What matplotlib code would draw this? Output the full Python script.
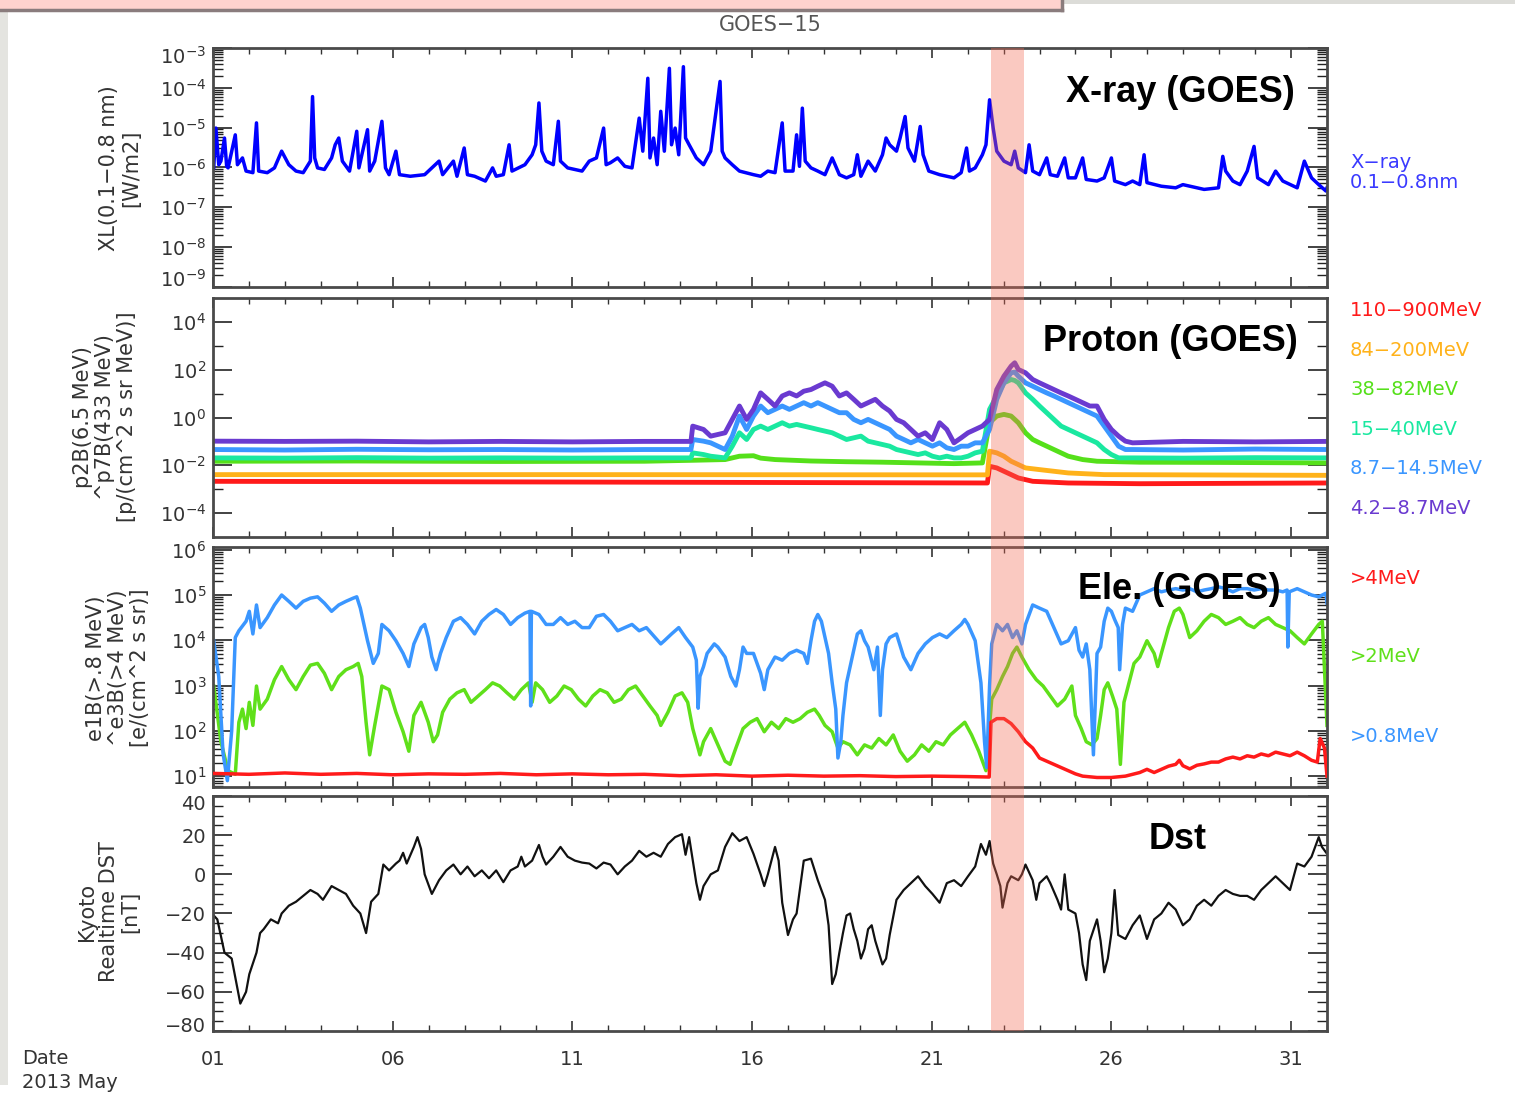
import numpy as np
import matplotlib

matplotlib.use("Agg")
import matplotlib.pyplot as plt
from matplotlib.patches import Rectangle
from matplotlib.lines import Line2D
from matplotlib.ticker import FixedLocator, LogLocator, MultipleLocator, NullFormatter
from matplotlib.transforms import blended_transform_factory, ScaledTranslation

plt.rcParams["font.family"] = ["DejaVu Sans"]

# time axis: days since 2013-05-01 00:00 UT
day_ticks = [0, 5, 10, 15, 20, 25, 30]
day_labels = ["01", "06", "11", "16", "21", "26", "31"]
band_start, band_end = 21.66, 22.56

# GOES-15 X-ray 0.1-0.8 nm, (day, log10 W/m2)
xray = [(0.02,-6.01),(0.08,-5.01),(0.16,-5.93),(0.22,-5.84),(0.32,-5.26),(0.38,-5.97),(0.42,-6.01),(0.62,-5.18),(0.68,-5.93),(0.82,-5.76),(0.92,-6.09),(1.11,-6.13),(1.21,-4.88),(1.27,-6.09),(1.51,-6.13),(1.71,-6.01),(1.91,-5.59),(2.11,-5.93),(2.31,-6.09),(2.51,-6.13),(2.71,-5.84),(2.77,-4.22),(2.83,-5.76),(2.91,-6.01),(3.10,-6.05),(3.30,-5.76),(3.40,-5.43),(3.50,-5.26),(3.60,-5.84),(3.80,-6.09),(4.00,-5.09),(4.06,-6.01),(4.30,-5.05),(4.36,-6.09),(4.50,-5.84),(4.70,-4.84),(4.80,-6.01),(4.90,-6.18),(5.09,-5.59),(5.19,-6.18),(5.49,-6.22),(5.89,-6.18),(6.29,-5.84),(6.39,-6.18),(6.69,-5.84),(6.79,-6.22),(6.99,-5.51),(7.08,-6.18),(7.28,-6.22),(7.58,-6.34),(7.78,-6.01),(7.88,-6.22),(8.08,-6.18),(8.24,-5.43),(8.32,-6.09),(8.68,-5.93),(8.88,-5.68),(8.98,-5.43),(9.07,-4.38),(9.15,-5.59),(9.27,-5.84),(9.47,-5.93),(9.61,-4.84),(9.67,-5.84),(9.87,-6.01),(10.07,-6.05),(10.27,-6.09),(10.47,-5.84),(10.67,-5.76),(10.87,-5.01),(10.94,-5.93),(11.06,-5.88),(11.26,-5.76),(11.46,-5.97),(11.66,-6.01),(11.86,-4.76),(11.96,-5.59),(12.10,-3.76),(12.16,-5.76),(12.26,-5.26),(12.36,-5.93),(12.46,-4.59),(12.56,-5.59),(12.70,-3.51),(12.76,-5.43),(12.86,-5.01),(12.96,-5.68),(13.09,-3.47),(13.15,-5.26),(13.25,-5.43),(13.45,-5.76),(13.65,-5.93),(13.85,-5.59),(14.11,-3.84),(14.17,-5.59),(14.25,-5.76),(14.45,-5.93),(14.65,-6.09),(15.04,-6.18),(15.24,-6.22),(15.44,-6.09),(15.64,-6.13),(15.84,-4.88),(15.92,-6.09),(16.14,-6.09),(16.24,-5.18),(16.32,-5.97),(16.40,-4.51),(16.48,-5.84),(16.64,-6.01),(16.83,-6.09),(17.03,-6.18),(17.23,-5.76),(17.43,-6.18),(17.63,-6.26),(17.83,-6.18),(17.93,-5.68),(18.03,-6.22),(18.23,-5.84),(18.43,-6.09),(18.63,-5.68),(18.73,-5.26),(18.83,-5.43),(19.02,-5.59),(19.12,-5.26),(19.26,-4.72),(19.34,-5.51),(19.52,-5.84),(19.68,-4.97),(19.76,-5.68),(19.92,-6.09),(20.22,-6.18),(20.62,-6.26),(20.82,-6.13),(20.97,-5.51),(21.05,-6.09),(21.21,-6.01),(21.41,-5.68),(21.51,-5.43),(21.61,-4.30),(21.71,-5.01),(21.81,-5.59),(22.01,-5.84),(22.21,-5.93),(22.31,-5.59),(22.41,-6.01),(22.61,-6.13),(22.71,-5.43),(22.81,-6.09),(23.00,-6.18),(23.20,-5.76),(23.30,-6.18),(23.50,-6.22),(23.70,-5.76),(23.80,-6.26),(24.00,-6.26),(24.20,-5.76),(24.30,-6.30),(24.60,-6.34),(24.80,-6.26),(25.00,-5.76),(25.09,-6.34),(25.39,-6.43),(25.59,-6.34),(25.79,-6.43),(25.91,-5.68),(25.99,-6.38),(26.39,-6.47),(26.79,-6.51),(26.99,-6.43),(27.38,-6.51),(27.58,-6.55),(27.98,-6.51),(28.10,-5.72),(28.18,-6.09),(28.38,-6.34),(28.58,-6.43),(28.78,-6.09),(28.97,-5.47),(29.07,-6.26),(29.37,-6.43),(29.57,-6.09),(29.77,-6.34),(30.17,-6.51),(30.37,-5.84),(30.57,-6.26),(30.77,-6.43),(30.97,-6.59),(31.00,-6.51)]

# GOES protons, log10 flux; three low-energy channels share one time grid
p_days = [0, 2, 4, 6, 8, 10, 12, 13.30, 13.35, 13.65, 13.85, 14.25, 14.45, 14.65, 14.85, 15.04, 15.24, 15.44, 15.64, 15.84, 16.04, 16.24, 16.44, 16.64, 16.83, 17.03, 17.23, 17.43, 17.63, 17.83, 18.03, 18.23, 18.43, 18.63, 18.83, 19.02, 19.22, 19.42, 19.62, 19.82, 20.02, 20.22, 20.42, 20.62, 20.82, 21.01, 21.21, 21.41, 21.61, 21.81, 22.01, 22.21, 22.31, 22.41, 22.61, 22.81, 23.00, 23.20, 23.40, 23.60, 23.80, 24.00, 24.20, 24.40, 24.60, 24.80, 25.00, 25.20, 25.39, 25.59, 27, 29, 31]
p_42_87 = [-0.99, -1.00, -0.99, -1.02, -1.00, -1.02, -1.00, -1.00, -0.36, -0.50, -0.78, -0.64, -0.08, 0.48, -0.08, 0.34, 1.03, 0.76, 0.48, 0.90, 1.03, 0.90, 1.10, 1.17, 1.31, 1.45, 1.31, 0.90, 1.03, 0.76, 0.48, 0.62, 0.76, 0.48, 0.27, -0.08, -0.22, -0.50, -0.78, -0.64, -0.92, -0.22, -0.50, -1.06, -0.85, -0.64, -0.50, -0.36, -0.08, 1.17, 1.73, 2.15, 2.29, 2.01, 1.87, 1.59, 1.45, 1.31, 1.17, 1.03, 0.90, 0.76, 0.62, 0.48, 0.48, -0.08, -0.50, -0.78, -0.99, -1.06, -1.00, -1.02, -1.00]
p_87_145 = [-1.34, -1.36, -1.33, -1.35, -1.34, -1.36, -1.34, -1.34, -0.92, -0.99, -1.06, -1.34, -0.78, 0.06, -0.50, 0.06, 0.48, 0.20, 0.34, 0.48, 0.34, 0.48, 0.62, 0.48, 0.62, 0.48, 0.34, 0.20, 0.20, -0.08, -0.22, -0.08, -0.22, -0.36, -0.50, -0.78, -0.92, -1.06, -0.92, -1.06, -1.20, -1.06, -1.27, -1.34, -1.20, -1.20, -1.06, -1.06, -0.50, 0.76, 1.45, 1.87, 1.90, 1.73, 1.45, 1.31, 1.17, 1.03, 0.90, 0.76, 0.62, 0.48, 0.34, 0.20, 0.06, -0.36, -0.78, -1.20, -1.34, -1.34, -1.36, -1.32, -1.34]
p_15_40 = [-1.69, -1.70, -1.68, -1.70, -1.69, -1.70, -1.69, -1.69, -1.48, -1.55, -1.62, -1.69, -1.20, -0.64, -0.92, -0.50, -0.36, -0.50, -0.36, -0.22, -0.36, -0.29, -0.36, -0.43, -0.50, -0.57, -0.64, -0.78, -0.92, -0.85, -0.78, -0.99, -1.06, -1.13, -1.20, -1.34, -1.41, -1.48, -1.55, -1.48, -1.62, -1.69, -1.62, -1.69, -1.69, -1.62, -1.48, -1.41, 0.34, 0.90, 1.45, 1.59, 1.55, 1.45, 1.03, 0.76, 0.48, 0.20, -0.08, -0.36, -0.50, -0.64, -0.78, -0.92, -1.06, -1.34, -1.55, -1.69, -1.69, -1.69, -1.70, -1.68, -1.69]
g_days = [0, 4, 8, 12, 13.35, 14.25, 14.65, 15.04, 15.24, 15.64, 16.64, 17.63, 18.63, 19.62, 20.62, 21.41, 21.61, 21.81, 22.01, 22.21, 22.41, 22.61, 22.81, 23.00, 23.20, 23.40, 23.60, 23.80, 24.00, 24.20, 24.60, 25.79, 28, 31]
p_38_82 = [-1.83, -1.82, -1.84, -1.83, -1.79, -1.76, -1.62, -1.60, -1.70, -1.76, -1.82, -1.85, -1.87, -1.90, -1.93, -1.90, -0.22, 0.06, 0.13, 0.06, -0.22, -0.64, -0.92, -1.06, -1.20, -1.34, -1.48, -1.62, -1.69, -1.76, -1.83, -1.87, -1.88, -1.90]
o_days = [0, 10, 21.55, 21.61, 21.81, 22.01, 22.21, 22.41, 22.61, 23.00, 23.40, 23.80, 24.80, 31]
p_84_200 = [-2.39, -2.39, -2.40, -1.41, -1.48, -1.62, -1.83, -1.97, -2.11, -2.18, -2.25, -2.32, -2.39, -2.42]
r_days = [0, 10, 21.55, 21.61, 21.81, 22.01, 22.21, 22.41, 22.61, 22.81, 23.80, 25.79, 31]
p_110_900 = [-2.67, -2.70, -2.74, -2.04, -2.11, -2.25, -2.39, -2.53, -2.60, -2.67, -2.74, -2.77, -2.74]

# GOES electrons, (day, log10 flux)
e_08 = [(0.02,3.99),(0.16,3.2),(0.28,1.5),(0.40,0.9),(0.52,2.0),(0.62,4.06),(0.72,4.21),(0.92,4.42),(1.01,4.64),(1.11,4.14),(1.21,4.78),(1.31,4.28),(1.51,4.50),(1.71,4.78),(1.91,5.00),(2.11,4.86),(2.31,4.71),(2.51,4.86),(2.71,4.93),(2.91,4.96),(3.10,4.82),(3.30,4.64),(3.50,4.78),(3.70,4.86),(3.90,4.93),(4.00,4.96),(4.10,4.71),(4.30,3.99),(4.46,3.49),(4.60,3.71),(4.70,4.35),(4.90,4.21),(5.09,3.99),(5.29,3.71),(5.45,3.42),(5.59,3.92),(5.79,4.28),(5.89,4.35),(5.99,4.06),(6.09,3.63),(6.21,3.35),(6.33,3.71),(6.49,4.06),(6.69,4.42),(6.89,4.50),(7.08,4.35),(7.28,4.14),(7.48,4.42),(7.68,4.57),(7.88,4.68),(8.08,4.57),(8.28,4.35),(8.48,4.50),(8.68,4.60),(8.82,4.64),(8.84,2.55),(8.86,4.64),(9.07,4.57),(9.27,4.35),(9.47,4.35),(9.67,4.50),(9.87,4.35),(10.07,4.42),(10.27,4.28),(10.47,4.28),(10.67,4.53),(10.87,4.57),(11.06,4.42),(11.26,4.21),(11.46,4.28),(11.66,4.35),(11.86,4.21),(12.06,4.28),(12.26,4.10),(12.46,3.92),(12.56,3.99),(12.76,4.14),(12.96,4.28),(13.15,4.06),(13.35,3.85),(13.45,3.56),(13.50,2.5),(13.55,3.20),(13.65,3.42),(13.75,3.71),(13.95,3.92),(14.05,3.85),(14.25,3.63),(14.41,3.20),(14.55,2.99),(14.65,3.35),(14.75,3.85),(14.85,3.71),(15.04,3.71),(15.24,3.27),(15.34,2.91),(15.44,3.35),(15.64,3.63),(15.84,3.56),(16.04,3.71),(16.24,3.78),(16.44,3.71),(16.54,3.49),(16.64,3.99),(16.74,4.42),(16.83,4.57),(16.93,4.42),(17.03,4.06),(17.13,3.71),(17.23,3.06),(17.33,2.48),(17.39,1.40),(17.47,1.76),(17.53,2.34),(17.63,3.06),(17.83,3.78),(17.93,4.14),(18.03,4.21),(18.13,3.99),(18.23,3.85),(18.39,3.35),(18.49,3.85),(18.57,2.34),(18.63,3.35),(18.73,3.92),(18.83,4.06),(19.02,4.14),(19.22,3.63),(19.42,3.35),(19.62,3.71),(19.82,3.92),(20.02,4.06),(20.22,4.14),(20.42,4.06),(20.62,4.21),(20.82,4.35),(20.92,4.46),(21.01,4.35),(21.21,3.99),(21.37,3.06),(21.47,1.76),(21.53,1.19),(21.61,3.0),(21.67,3.92),(21.81,4.35),(21.97,4.21),(22.11,4.35),(22.25,4.06),(22.37,4.21),(22.51,3.92),(22.61,4.35),(22.81,4.78),(23.00,4.71),(23.20,4.64),(23.40,4.28),(23.60,3.92),(23.80,3.99),(24.00,4.28),(24.10,3.78),(24.20,3.63),(24.30,3.92),(24.40,3.35),(24.50,1.47),(24.60,3.71),(24.70,3.85),(24.80,4.42),(24.90,4.71),(25.00,4.64),(25.09,4.46),(25.19,4.28),(25.23,3.35),(25.31,4.35),(25.39,4.71),(25.59,4.64),(25.79,5.00),(25.99,5.07),(26.19,5.14),(26.39,5.07),(26.59,5.11),(26.79,5.14),(26.99,5.11),(27.18,5.14),(27.38,5.07),(27.58,5.11),(27.78,5.14),(27.98,5.18),(28.18,5.14),(28.38,5.07),(28.58,5.14),(28.78,5.14),(28.97,5.11),(29.17,5.14),(29.37,5.11),(29.57,5.11),(29.77,5.07),(29.89,5.11),(29.91,3.85),(29.95,5.07),(30.17,5.14),(30.37,5.07),(30.57,5.00),(30.77,4.96),(30.97,5.04),(31.00,4.82)]
e_2 = [(0.02,2.99),(0.22,1.76),(0.42,1.12),(0.62,1.04),(0.72,2.19),(0.82,2.48),(0.92,2.05),(1.01,2.63),(1.11,2.12),(1.21,2.99),(1.31,2.48),(1.51,2.70),(1.71,3.13),(1.91,3.42),(2.11,3.13),(2.31,2.91),(2.51,3.20),(2.71,3.45),(2.91,3.49),(3.10,3.27),(3.30,2.91),(3.50,3.20),(3.70,3.35),(3.90,3.42),(4.04,3.49),(4.14,3.20),(4.26,2.19),(4.36,1.47),(4.50,2.12),(4.70,2.99),(4.90,2.91),(5.09,2.41),(5.29,1.98),(5.45,1.55),(5.59,2.34),(5.79,2.63),(5.99,2.19),(6.13,1.76),(6.25,1.91),(6.39,2.41),(6.59,2.70),(6.79,2.84),(6.99,2.91),(7.18,2.63),(7.38,2.77),(7.58,2.91),(7.78,3.06),(7.98,2.99),(8.18,2.84),(8.38,2.70),(8.58,2.91),(8.78,3.06),(8.88,2.63),(8.98,3.06),(9.17,2.91),(9.37,2.63),(9.57,2.77),(9.77,2.99),(9.97,2.91),(10.17,2.70),(10.37,2.55),(10.57,2.77),(10.77,2.91),(10.97,2.84),(11.16,2.63),(11.36,2.70),(11.56,2.91),(11.76,2.99),(11.96,2.77),(12.16,2.55),(12.36,2.34),(12.46,2.12),(12.66,2.41),(12.86,2.77),(13.05,2.84),(13.21,2.63),(13.35,2.05),(13.45,1.76),(13.55,1.47),(13.65,1.76),(13.85,2.05),(14.05,1.69),(14.25,1.33),(14.39,1.26),(14.55,1.62),(14.75,2.05),(14.95,2.19),(15.14,2.27),(15.34,1.98),(15.54,2.19),(15.74,2.05),(15.94,2.27),(16.14,2.19),(16.34,2.27),(16.54,2.41),(16.74,2.48),(16.87,2.34),(17.03,2.12),(17.23,1.98),(17.39,1.62),(17.53,1.76),(17.73,1.69),(17.93,1.47),(18.13,1.69),(18.33,1.62),(18.53,1.83),(18.73,1.69),(18.93,1.91),(19.12,1.55),(19.32,1.33),(19.52,1.47),(19.72,1.69),(19.92,1.55),(20.12,1.76),(20.32,1.69),(20.52,1.91),(20.72,2.05),(20.92,2.19),(21.11,1.91),(21.31,1.55),(21.51,1.12),(21.67,2.70),(21.81,2.91),(21.97,3.20),(22.11,3.42),(22.25,3.71),(22.37,3.85),(22.51,3.63),(22.71,3.35),(22.91,3.13),(23.10,2.99),(23.30,2.77),(23.50,2.55),(23.70,2.70),(23.90,2.99),(24.00,2.34),(24.16,2.05),(24.30,1.76),(24.46,1.69),(24.60,1.83),(24.70,2.34),(24.80,2.91),(24.90,3.06),(25.03,2.77),(25.15,2.48),(25.25,1.26),(25.35,2.63),(25.49,3.06),(25.63,3.49),(25.79,3.63),(25.99,3.99),(26.19,3.71),(26.29,3.42),(26.39,3.71),(26.59,4.28),(26.75,4.64),(26.89,4.71),(26.99,4.57),(27.18,4.06),(27.38,4.21),(27.58,4.42),(27.78,4.57),(27.98,4.50),(28.18,4.35),(28.38,4.42),(28.58,4.50),(28.78,4.35),(28.97,4.28),(29.17,4.42),(29.37,4.50),(29.57,4.35),(29.77,4.28),(29.97,4.21),(30.17,4.06),(30.37,3.92),(30.57,4.14),(30.77,4.35),(30.87,4.42),(31.00,2.12)]
e_4 = [(0.02,1.06),(1.0,1.04),(2.0,1.07),(3.0,1.04),(4.0,1.06),(5.0,1.03),(6.0,1.05),(7.0,1.04),(8.0,1.06),(9.0,1.03),(10.0,1.05),(11.0,1.03),(12.0,1.04),(13.0,1.01),(14.0,1.03),(15.0,1.00),(16.0,1.02),(17.0,1.00),(18.0,1.01),(19.0,0.99),(20.0,1.00),(21.0,0.99),(21.60,0.98),(21.65,2.19),(21.81,2.27),(22.01,2.27),(22.21,2.16),(22.41,1.98),(22.61,1.76),(22.81,1.62),(23.00,1.40),(23.20,1.33),(23.40,1.26),(23.60,1.19),(23.80,1.12),(24.00,1.05),(24.20,1.00),(24.60,0.97),(25.00,0.97),(25.39,1.00),(25.79,1.08),(25.99,1.15),(26.19,1.08),(26.39,1.15),(26.59,1.22),(26.79,1.26),(26.89,1.35),(26.99,1.23),(27.18,1.16),(27.38,1.24),(27.58,1.27),(27.78,1.31),(27.98,1.31),(28.18,1.38),(28.38,1.42),(28.58,1.38),(28.78,1.45),(28.97,1.42),(29.17,1.49),(29.37,1.45),(29.57,1.53),(29.77,1.49),(29.97,1.45),(30.17,1.53),(30.37,1.45),(30.57,1.35),(30.73,1.31),(30.81,1.83),(30.93,1.62),(31.00,1.00)]

# Kyoto realtime Dst, (day, nT)
dst = [(0.02,-21),(0.12,-23),(0.32,-40),(0.52,-43),(0.76,-66),(0.92,-60),(1.01,-51),(1.21,-40),(1.31,-30),(1.41,-28),(1.61,-23),(1.81,-25),(1.91,-20),(2.11,-16),(2.31,-14),(2.51,-11),(2.71,-8),(2.91,-10),(3.06,-13),(3.30,-6),(3.50,-8),(3.70,-10),(3.90,-16),(4.10,-20),(4.26,-30),(4.40,-14),(4.60,-10),(4.74,5),(4.90,2),(5.09,5.5),(5.19,7),(5.29,11),(5.39,5.5),(5.59,14),(5.69,19),(5.79,13),(5.89,0),(6.09,-10),(6.29,-3),(6.49,2),(6.69,5),(6.89,0),(7.08,4),(7.28,-1),(7.48,2),(7.68,-2),(7.88,2),(8.08,-4),(8.28,2),(8.48,4),(8.58,9),(8.68,4),(8.88,7),(9.07,15),(9.17,9),(9.27,5),(9.47,9),(9.67,14),(9.87,9),(10.07,7),(10.27,6),(10.47,5.5),(10.67,3),(10.87,6),(11.06,5),(11.26,0),(11.46,4),(11.66,7),(11.86,12),(12.06,9),(12.26,11),(12.46,9),(12.66,15.5),(12.86,19),(13.05,20.5),(13.15,10),(13.25,19),(13.45,-4.5),(13.55,-13),(13.65,-6),(13.85,0),(14.05,2),(14.25,14),(14.45,21),(14.65,17),(14.85,19),(15.04,10.5),(15.24,0),(15.34,-6),(15.44,0),(15.64,14),(15.74,7),(15.84,-14.5),(16.00,-31),(16.14,-23),(16.24,-20),(16.44,7),(16.64,8),(16.83,-3),(17.03,-13),(17.13,-26),(17.23,-56),(17.33,-51),(17.43,-40),(17.53,-30),(17.63,-21),(17.73,-20),(17.83,-28),(17.93,-34),(18.03,-43),(18.13,-38),(18.23,-28),(18.33,-26),(18.43,-34),(18.63,-46),(18.73,-43),(18.83,-31),(19.02,-13),(19.22,-8),(19.42,-4.5),(19.62,-1),(19.82,-6),(20.02,-10),(20.22,-14.5),(20.42,-4.5),(20.62,-3),(20.82,-6),(21.01,-1),(21.21,4),(21.37,15.5),(21.51,10),(21.61,17),(21.71,5.5),(21.81,0),(21.91,-6),(21.97,-17),(22.11,-4.5),(22.21,-1),(22.41,-3),(22.51,0),(22.61,5),(22.81,-3),(22.91,-13),(23.00,-4.5),(23.20,-1),(23.30,-4.5),(23.50,-13),(23.60,-18),(23.70,0),(23.80,-18),(24.00,-20),(24.10,-30),(24.20,-46),(24.30,-54),(24.40,-34),(24.60,-23),(24.70,-34),(24.80,-50),(24.90,-43),(25.00,-30),(25.09,-8),(25.19,-31),(25.39,-33),(25.59,-26),(25.79,-21),(25.99,-33),(26.19,-23),(26.39,-20),(26.59,-14.5),(26.79,-18),(26.99,-26),(27.18,-23),(27.38,-16),(27.58,-13),(27.78,-16),(27.98,-11),(28.18,-8),(28.38,-10),(28.58,-11),(28.78,-11),(28.97,-13),(29.17,-8),(29.37,-4.5),(29.57,-1),(29.77,-4.5),(29.97,-8),(30.17,5.5),(30.37,4),(30.57,9),(30.77,19),(30.86,14),(31.00,10.5)]

proton_labels = ["110\u2212900MeV", "84\u2212200MeV", "38\u221282MeV", "15\u221240MeV", "8.7\u221214.5MeV", "4.2\u22128.7MeV"]
proton_colors = ["#ff1a1a", "#ffb21a", "#55e01a", "#1ae8a0", "#3a96ff", "#6a3ad0"]
ele_labels = [">4MeV", ">2MeV", ">0.8MeV"]
ele_colors = ["#ff1a1a", "#5fe01a", "#3a96ff"]

W, H = 1515, 1095
fig = plt.figure(figsize=(W / 100, H / 100), dpi=100, facecolor="white")


def nudge(tick, dy_px):
    # shift one y tick label vertically, IDL puts end labels inside the frame
    lab = tick.label1
    lab.set_transform(lab.get_transform() + ScaledTranslation(0, dy_px / 100, fig.dpi_scale_trans))


# page furniture from the screenshot
fig.add_artist(Rectangle((0, 1 - 11 / H), 1062 / W, 11 / H, transform=fig.transFigure,
                         facecolor="#ffd3ce", edgecolor="none", zorder=0))
fig.add_artist(Line2D([0, 1062 / W], [1 - 10 / H] * 2, transform=fig.transFigure, color="#8a7c7d", lw=2.5))
fig.add_artist(Line2D([1062 / W] * 2, [1 - 10 / H, 1], transform=fig.transFigure, color="#8a7c7d", lw=2.5))
fig.add_artist(Rectangle((1064 / W, 1 - 4 / H), 1 - 1064 / W, 4 / H, transform=fig.transFigure,
                         facecolor="#dcdcd8", edgecolor="none", zorder=0))
fig.add_artist(Rectangle((0, 10 / H), 8 / W, 1 - 22 / H, transform=fig.transFigure,
                         facecolor="#e4e4e0", edgecolor="none", zorder=0))

left, width = 213 / W, 1114 / W
panels = [(48, 287), (298, 537), (547, 787), (796, 1031)]
axes = [fig.add_axes([left, 1 - b / H, width, (b - t) / H]) for t, b in panels]
ax_x, ax_p, ax_e, ax_d = axes

for ax in axes:
    ax.set_xlim(0, 31)
    for s in ax.spines.values():
        s.set_color("#4a4a4a")
        s.set_linewidth(2)
    ax.xaxis.set_major_locator(FixedLocator(day_ticks))
    ax.xaxis.set_minor_locator(MultipleLocator(1))
    ax.tick_params(axis="x", which="major", direction="in", top=True, bottom=True,
                   length=7, width=1.2, color="#333333", pad=14)
    ax.tick_params(axis="x", which="minor", direction="in", top=True, bottom=True,
                   length=4, width=1, color="#333333")
    ax.tick_params(axis="y", which="major", direction="in", left=True, right=True,
                   length=14, width=1.2, color="#222222", pad=5)
    ax.tick_params(axis="y", which="minor", direction="in", left=True, right=True,
                   length=7, width=1, color="#222222")
    ax.tick_params(labelsize=14, labelcolor="#333333")
    if ax is not ax_d:
        ax.tick_params(axis="x", labelbottom=False)
ax_d.set_xticklabels(day_labels)

# X-ray
xr = np.array(xray)
ax_x.plot(xr[:, 0], 10 ** xr[:, 1], color="#0000ff", lw=2.5)
ax_x.set_yscale("log")
ax_x.set_ylim(1e-9, 1e-3)
ax_x.yaxis.set_major_locator(FixedLocator([1e-9, 1e-8, 1e-7, 1e-6, 1e-5, 1e-4, 1e-3]))
ax_x.yaxis.set_minor_locator(LogLocator(base=10, subs=np.arange(2, 10), numticks=10))
ax_x.yaxis.set_minor_formatter(NullFormatter())
xt = ax_x.yaxis.get_major_ticks()
nudge(xt[0], 9)
nudge(xt[-1], -7)

# protons
proton_series = [(r_days, p_110_900), (o_days, p_84_200), (g_days, p_38_82),
                 (p_days, p_15_40), (p_days, p_87_145), (p_days, p_42_87)]
for (d, v), c in zip(proton_series, proton_colors):
    ax_p.plot(d, 10 ** np.array(v), color=c, lw=3.5)
ax_p.set_yscale("log")
ax_p.set_ylim(1e-5, 1e5)
ax_p.yaxis.set_major_locator(FixedLocator([1e-4, 1e-2, 1e0, 1e2, 1e4]))
ax_p.yaxis.set_minor_locator(FixedLocator([1e-3, 1e-1, 1e1, 1e3]))
ax_p.yaxis.set_minor_formatter(NullFormatter())

# electrons
for series, c in zip([e_4, e_2, e_08], ele_colors):
    arr = np.array(series)
    ax_e.plot(arr[:, 0], 10 ** arr[:, 1], color=c, lw=2.5, zorder=3 if c == ele_colors[0] else 2)
ax_e.set_yscale("log")
ax_e.set_ylim(10 ** 0.76, 10 ** 6.06)
ax_e.yaxis.set_major_locator(FixedLocator([1e1, 1e2, 1e3, 1e4, 1e5, 1e6]))
ax_e.yaxis.set_minor_locator(LogLocator(base=10, subs=np.arange(2, 10), numticks=10))
ax_e.yaxis.set_minor_formatter(NullFormatter())

# Dst
ds = np.array(dst)
ax_d.plot(ds[:, 0], ds[:, 1], color="#111111", lw=1.6)
ax_d.set_ylim(-80, 40)
ax_d.set_yticks([-80, -60, -40, -20, 0, 20, 40])
ax_d.set_yticklabels(["\u221280", "\u221260", "\u221240", "\u221220", "0", "20", "40"])
ax_d.yaxis.set_minor_locator(MultipleLocator(5))
dt = ax_d.yaxis.get_major_ticks()
nudge(dt[0], 7)
nudge(dt[-1], -7)

# event band spanning all panels
band_tr = blended_transform_factory(ax_d.transData, fig.transFigure)
fig.add_artist(Rectangle((band_start, 1 - 1031 / H), band_end - band_start, (1031 - 48) / H,
                         transform=band_tr, facecolor="#f26a55", alpha=0.36, edgecolor="none", zorder=5))

# panel tags
tag_kw = dict(ha="right", va="center", fontsize=26, fontweight="bold",
              family=["Liberation Sans", "DejaVu Sans"], color="black", zorder=6)
ax_x.text(0.971, 0.812, "X-ray (GOES)", transform=ax_x.transAxes, **tag_kw)
ax_p.text(0.974, 0.816, "Proton (GOES)", transform=ax_p.transAxes, **tag_kw)
ax_e.text(0.958, 0.821, "Ele. (GOES)", transform=ax_e.transAxes, **tag_kw)
ax_d.text(0.892, 0.813, "Dst", transform=ax_d.transAxes, **tag_kw)

# y labels
ylab_kw = dict(rotation=90, ha="center", va="center", multialignment="center",
               fontsize=15, color="#333333", linespacing=1.1)
fig.text(120 / W, 1 - 168 / H, "XL(0.1\u22120.8 nm)\n[W/m2]", **ylab_kw)
fig.text(105 / W, 1 - 417 / H, "p2B(6.5 MeV)\n^p7B(433 MeV)\n[p/(cm^2 s sr MeV)]", **ylab_kw)
fig.text(118 / W, 1 - 668 / H, "e1B(>.8 MeV)\n^e3B(>4 MeV)\n[e/(cm^2 s sr)]", **ylab_kw)
fig.text(109 / W, 1 - 912 / H, "Kyoto\nRealtime DST\n[nT]", **ylab_kw)

# right-hand channel labels
fig.text(1350 / W, 1 - 162 / H, "X\u2212ray", color="#3a3aff", fontsize=14, va="center")
fig.text(1350 / W, 1 - 183 / H, "0.1\u22120.8nm", color="#3a3aff", fontsize=14, va="center")
for lab, c, y in zip(proton_labels, proton_colors, [310, 350, 389, 429, 468, 508]):
    fig.text(1350 / W, 1 - y / H, lab, color=c, fontsize=14, va="center")
for lab, c, y in zip(ele_labels, ele_colors, [578, 657, 737]):
    fig.text(1350 / W, 1 - y / H, lab, color=c, fontsize=14, va="center")

fig.text(770 / W, 1 - 25 / H, "GOES\u221215", ha="center", va="center", fontsize=15, color="#555555")
fig.text(22 / W, 1 - 1058 / H, "Date", va="center", fontsize=14, color="#333333")
fig.text(22 / W, 1 - 1082 / H, "2013 May", va="center", fontsize=14, color="#333333")

fig.savefig("out.png", dpi=100, facecolor="white")
